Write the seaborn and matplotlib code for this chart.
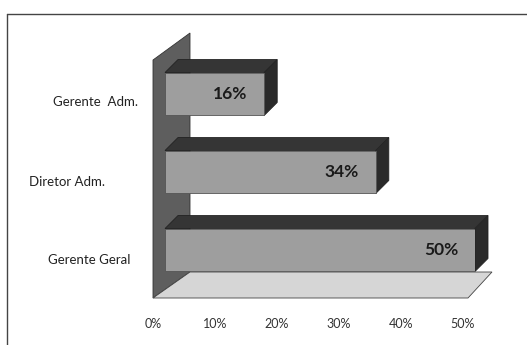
import matplotlib
matplotlib.use("Agg")
import matplotlib.pyplot as plt
from matplotlib.patches import Polygon
from matplotlib.lines import Line2D
from matplotlib.transforms import ScaledTranslation
import seaborn as sns

# Chart data
categories = ["Gerente  Adm.", "Diretor Adm.", "Gerente Geral"]
shares = [0.16, 0.34, 0.50]
tick_values = [0.0, 0.1, 0.2, 0.3, 0.4, 0.5]
tick_labels = ["0%", "10%", "20%", "30%", "40%", "50%"]

# Layout of the category names (right edge in pixels, vertical nudge in pixels)
label_right_px = [138, 105, 130]
label_drop_px = [8, 10, 10]

W, H = 527, 345
DPI = 100

sns.set_theme(style="white")
plt.rcParams["font.family"] = ["Lato", "DejaVu Sans"]

fig = plt.figure(figsize=(W / DPI, H / DPI), dpi=DPI)
fig.patch.set_facecolor("white")

# plot area: x=0 at 165 px, x=0.5 at 475 px; rows spaced 78 px, first row at 94 px
ax_left, ax_right, ax_top, ax_bot = 165, 475, 35, 300
ax = fig.add_axes([ax_left / W, 1 - ax_bot / H, (ax_right - ax_left) / W, (ax_bot - ax_top) / H])

front = "#9e9e9e"
dark = "#353535"
wall_c = "#5e5e5e"
floor_c = "#d6d6d6"

sns.barplot(x=shares, y=categories, orient="h", color=front, width=0.55,
            saturation=1, ax=ax, zorder=3, edgecolor="#555555", linewidth=0.6)

ax.set_xlim(0, 0.5)
ax.set_ylim((ax_bot - 94) / 78, (ax_top - 94) / 78)
ax.set_xlabel("")
ax.set_ylabel("")
for s in ax.spines.values():
    s.set_visible(False)
ax.set_yticks([])
ax.set_xticks(tick_values)
ax.set_xticklabels(tick_labels, fontsize=9, color="#333333")
ax.tick_params(axis="x", length=0, pad=13)
# tick labels sit on the front edge of the floor, slightly left of the bar faces
for lab in ax.get_xticklabels():
    lab.set_transform(lab.get_transform() + ScaledTranslation(-12 / DPI, 0, fig.dpi_scale_trans))

inv = ax.transData.inverted()


def px(x, y):
    """Pixel position (from top-left) to data coordinates."""
    return inv.transform((x, H - y))


# Side wall and floor of the 3-D frame
wall = Polygon([px(153, 60), px(190, 33), px(190, 272), px(153, 298)],
               closed=True, facecolor=wall_c, edgecolor="#333333", lw=0.6,
               clip_on=False, zorder=1)
floor = Polygon([px(153, 298), px(468, 298), px(492, 272), px(190, 272)],
                closed=True, facecolor=floor_c, edgecolor="#444444", lw=0.6,
                clip_on=False, zorder=1)
ax.add_patch(wall)
ax.add_patch(floor)

# Depth faces for each bar, derived from the drawn bar rectangles
dx_px, dy_px = 13, 13
for bar, v in zip(ax.patches[:len(shares)], shares):
    x0 = bar.get_x()
    x1 = x0 + bar.get_width()
    y_a = bar.get_y()
    y_b = y_a + bar.get_height()
    y_top, y_bottom = min(y_a, y_b), max(y_a, y_b)
    X0, Yt = ax.transData.transform((x0, y_top))
    X1, Yb = ax.transData.transform((x1, y_bottom))
    d = lambda X, Y: inv.transform((X, Y))
    top_face = Polygon([d(X0, Yt), d(X1, Yt), d(X1 + dx_px, Yt + dy_px), d(X0 + dx_px, Yt + dy_px)],
                       closed=True, facecolor=dark, edgecolor="#222222", lw=0.6,
                       clip_on=False, zorder=2)
    side_face = Polygon([d(X1, Yt), d(X1, Yb), d(X1 + dx_px, Yb + dy_px), d(X1 + dx_px, Yt + dy_px)],
                        closed=True, facecolor="#2a2a2a", edgecolor="#222222", lw=0.6,
                        clip_on=False, zorder=2)
    ax.add_patch(top_face)
    ax.add_patch(side_face)
    ax.annotate(f"{v:.0%}", xy=(x1, (y_top + y_bottom) / 2), xytext=(-12, 0),
                textcoords="offset points", ha="right", va="center",
                fontsize=12.5, fontweight="bold", color="#1a1a1a", zorder=5)

# Category names
for i, (name, rx, dy) in enumerate(zip(categories, label_right_px, label_drop_px)):
    _, Y = ax.transData.transform((0, i))
    xd, yd = inv.transform((rx, Y - dy))
    ax.text(xd, yd, name, ha="right", va="center", fontsize=9.5,
            color="#222222", clip_on=False)

# Outer border (top and left edges)
fig.add_artist(Line2D([7 / W, 1], [1 - 14 / H, 1 - 14 / H], transform=fig.transFigure,
                      color="#444444", lw=1))
fig.add_artist(Line2D([7 / W, 7 / W], [0, 1 - 14 / H], transform=fig.transFigure,
                      color="#444444", lw=1))

fig.savefig("out.png", dpi=DPI, facecolor="white")
